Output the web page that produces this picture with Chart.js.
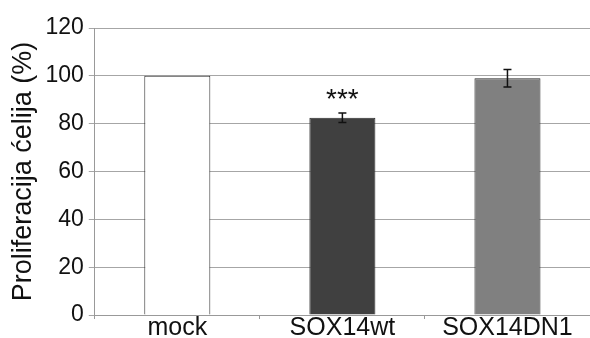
<!DOCTYPE html>
<html>
<head>
<meta charset="utf-8">
<script src="https://cdn.jsdelivr.net/npm/chart.js@4"></script>
<style>
  html, body { margin: 0; padding: 0; background: #fff; }
  #wrap { width: 590px; height: 338px; }
</style>
</head>
<body>
<div id="wrap"><canvas id="my-bar-chart"></canvas></div>
<script>
// Data
const labels = ['mock', 'SOX14wt', 'SOX14DN1'];
const values = [100, 82.5, 99];
const errors = [0, 2, 3.7];
const marks = ['', '***', ''];
const barColors = ['#ffffff', '#404040', '#808080'];
const yTicks = [0, 20, 40, 60, 80, 100, 120];

const fontFamily = '"Liberation Sans", Arial, sans-serif';

// error bars + significance stars
const errorBarPlugin = {
    id: 'errorBars',
    afterDatasetsDraw(chart) {
        const ctx = chart.ctx;
        const yScale = chart.scales.y;
        const meta = chart.getDatasetMeta(0);
        ctx.save();
        meta.data.forEach((bar, i) => {
            const x = bar.x;
            if (errors[i] > 0) {
                const yTop = yScale.getPixelForValue(values[i] + errors[i]);
                const yBot = yScale.getPixelForValue(values[i] - errors[i]);
                ctx.strokeStyle = '#111';
                ctx.lineWidth = 1.5;
                ctx.beginPath();
                ctx.moveTo(x, yTop);
                ctx.lineTo(x, yBot);
                ctx.moveTo(x - 4, yTop);
                ctx.lineTo(x + 4, yTop);
                ctx.moveTo(x - 4, yBot);
                ctx.lineTo(x + 4, yBot);
                ctx.stroke();
            }
            if (marks[i]) {
                const yTop = yScale.getPixelForValue(values[i] + errors[i]);
                ctx.fillStyle = '#111';
                ctx.font = '28px ' + fontFamily;
                ctx.textAlign = 'center';
                ctx.textBaseline = 'alphabetic';
                ctx.fillText(marks[i], x, yTop - 5);
            }
        });
        ctx.restore();
    }
};

const barChart = new Chart(document.getElementById('my-bar-chart'), {
    type: 'bar',
    data: {
        labels: labels,
        datasets: [{
            data: values,
            backgroundColor: barColors,
            borderColor: '#2a2a2a',
            borderWidth: 1,
            categoryPercentage: 1,
            barPercentage: 0.4
        }]
    },
    options: {
        responsive: true,
        maintainAspectRatio: false,
        animation: false,
        layout: { padding: { top: 28, right: -3, bottom: 0, left: 5 } },
        plugins: {
            legend: { display: false },
            tooltip: { enabled: false }
        },
        scales: {
            x: {
                grid: {
                    drawOnChartArea: false,
                    drawTicks: true,
                    tickLength: 4,
                    color: '#999'
                },
                border: { color: '#999', width: 1 },
                ticks: {
                    color: '#111',
                    padding: -3,
                    font: { family: fontFamily, size: 25, lineHeight: 1 }
                }
            },
            y: {
                min: 0,
                max: 120,
                afterBuildTicks: (axis) => { axis.ticks = yTicks.map(v => ({ value: v })); },
                grid: {
                    color: '#a6a6a6',
                    tickLength: 6,
                    drawTicks: true
                },
                border: { color: '#999', width: 1 },
                ticks: {
                    color: '#111',
                    padding: 5,
                    font: { family: fontFamily, size: 23 }
                },
                title: {
                    display: true,
                    text: 'Proliferacija ćelija (%)',
                    color: '#111',
                    padding: { top: 2, bottom: 1 },
                    font: { family: fontFamily, size: 27 }
                }
            }
        }
    },
    plugins: [errorBarPlugin]
});
</script>
</body>
</html>
